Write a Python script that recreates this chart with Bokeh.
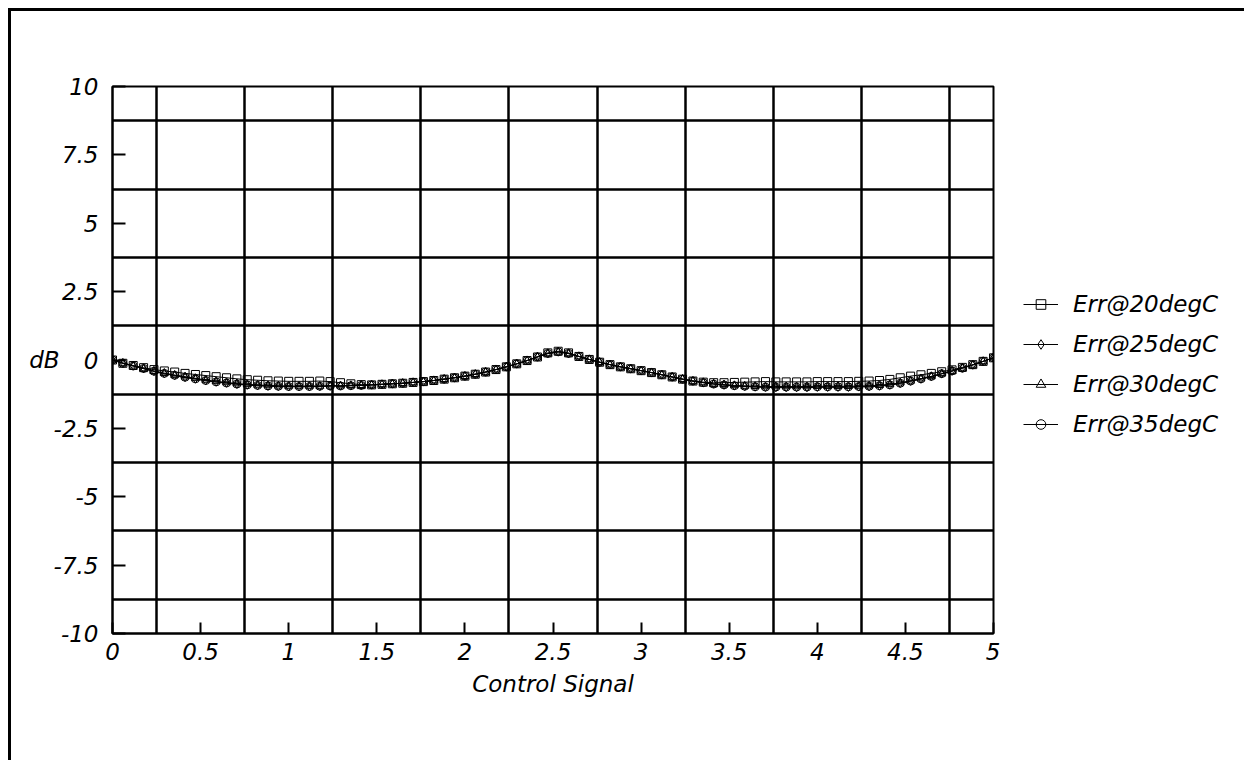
from bokeh.plotting import figure
from bokeh.layouts import row
from bokeh.models import FixedTicker, Legend, LegendItem, ColumnDataSource, Range1d
from bokeh.embed import file_html
from bokeh.resources import INLINE

# ---------------- data ----------------
control = [0.0, 0.0588, 0.1176, 0.1765, 0.2353, 0.2941, 0.3529, 0.4118, 0.4706, 0.5294,
           0.5882, 0.6471, 0.7059, 0.7647, 0.8235, 0.8824, 0.9412, 1.0, 1.0588, 1.1176,
           1.1765, 1.2353, 1.2941, 1.3529, 1.4118, 1.4706, 1.5294, 1.5882, 1.6471, 1.7059,
           1.7647, 1.8235, 1.8824, 1.9412, 2.0, 2.0588, 2.1176, 2.1765, 2.2353, 2.2941,
           2.3529, 2.4118, 2.4706, 2.5294, 2.5882, 2.6471, 2.7059, 2.7647, 2.8235, 2.8824,
           2.9412, 3.0, 3.0588, 3.1176, 3.1765, 3.2353, 3.2941, 3.3529, 3.4118, 3.4706,
           3.5294, 3.5882, 3.6471, 3.7059, 3.7647, 3.8235, 3.8824, 3.9412, 4.0, 4.0588,
           4.1176, 4.1765, 4.2353, 4.2941, 4.3529, 4.4118, 4.4706, 4.5294, 4.5882, 4.6471,
           4.7059, 4.7647, 4.8235, 4.8824, 4.9412, 5.0]

err_20 = [0.00, -0.12, -0.20, -0.28, -0.35, -0.40, -0.44, -0.49, -0.53, -0.57,
          -0.61, -0.65, -0.69, -0.72, -0.74, -0.76, -0.77, -0.78, -0.78, -0.78,
          -0.77, -0.79, -0.83, -0.87, -0.90, -0.91, -0.89, -0.87, -0.85, -0.82,
          -0.79, -0.75, -0.70, -0.65, -0.59, -0.52, -0.44, -0.35, -0.25, -0.14,
          -0.02, 0.11, 0.26, 0.32, 0.26, 0.13, 0.02, -0.08, -0.17, -0.25,
          -0.32, -0.39, -0.46, -0.54, -0.62, -0.70, -0.77, -0.81, -0.83, -0.83,
          -0.82, -0.81, -0.80, -0.79, -0.80, -0.80, -0.80, -0.80, -0.79, -0.79,
          -0.79, -0.79, -0.78, -0.77, -0.75, -0.71, -0.65, -0.59, -0.54, -0.49,
          -0.43, -0.36, -0.27, -0.17, -0.05, 0.08]

err_25 = [0.00, -0.12, -0.22, -0.32, -0.42, -0.50, -0.57, -0.64, -0.70, -0.76,
          -0.81, -0.85, -0.89, -0.92, -0.94, -0.96, -0.97, -0.98, -0.98, -0.98,
          -0.97, -0.96, -0.95, -0.94, -0.93, -0.91, -0.89, -0.87, -0.85, -0.82,
          -0.79, -0.75, -0.70, -0.65, -0.59, -0.52, -0.44, -0.35, -0.25, -0.14,
          -0.02, 0.11, 0.23, 0.29, 0.23, 0.13, 0.02, -0.08, -0.17, -0.25,
          -0.32, -0.39, -0.46, -0.54, -0.62, -0.70, -0.77, -0.83, -0.88, -0.92,
          -0.95, -0.97, -0.99, -1.00, -1.01, -1.01, -1.01, -1.01, -1.00, -1.00,
          -1.00, -1.00, -0.99, -0.98, -0.96, -0.92, -0.86, -0.78, -0.70, -0.61,
          -0.51, -0.41, -0.30, -0.18, -0.05, 0.08]

err_30 = [0.00, -0.11, -0.21, -0.31, -0.40, -0.48, -0.55, -0.61, -0.67, -0.73,
          -0.78, -0.82, -0.86, -0.89, -0.91, -0.93, -0.94, -0.95, -0.95, -0.95,
          -0.95, -0.94, -0.94, -0.93, -0.92, -0.91, -0.89, -0.87, -0.85, -0.82,
          -0.79, -0.75, -0.70, -0.65, -0.59, -0.52, -0.44, -0.35, -0.25, -0.14,
          -0.02, 0.12, 0.24, 0.30, 0.24, 0.13, 0.02, -0.08, -0.17, -0.25,
          -0.32, -0.39, -0.46, -0.54, -0.62, -0.70, -0.77, -0.82, -0.87, -0.90,
          -0.93, -0.95, -0.96, -0.97, -0.97, -0.97, -0.97, -0.97, -0.96, -0.96,
          -0.96, -0.96, -0.95, -0.94, -0.92, -0.89, -0.83, -0.76, -0.68, -0.60,
          -0.50, -0.40, -0.29, -0.18, -0.05, 0.09]

err_35 = [0.00, -0.12, -0.22, -0.31, -0.41, -0.49, -0.56, -0.63, -0.69, -0.75,
          -0.80, -0.84, -0.88, -0.91, -0.93, -0.95, -0.96, -0.97, -0.97, -0.97,
          -0.96, -0.95, -0.95, -0.94, -0.93, -0.91, -0.89, -0.87, -0.85, -0.82,
          -0.79, -0.75, -0.70, -0.65, -0.59, -0.52, -0.44, -0.35, -0.25, -0.14,
          -0.02, 0.11, 0.24, 0.30, 0.24, 0.13, 0.02, -0.08, -0.17, -0.25,
          -0.32, -0.39, -0.46, -0.54, -0.62, -0.70, -0.77, -0.83, -0.88, -0.91,
          -0.94, -0.96, -0.98, -0.99, -0.99, -0.99, -0.99, -0.99, -0.98, -0.98,
          -0.98, -0.98, -0.97, -0.96, -0.94, -0.91, -0.85, -0.77, -0.69, -0.60,
          -0.50, -0.40, -0.30, -0.18, -0.05, 0.08]

series_names = ["Err@20degC", "Err@25degC", "Err@30degC", "Err@35degC"]
series_markers = ["square", "diamond", "triangle", "circle"]

x_ticks = [0, 0.5, 1, 1.5, 2, 2.5, 3, 3.5, 4, 4.5, 5]
x_tick_labels = ["0", "0.5", "1", "1.5", "2", "2.5", "3", "3.5", "4", "4.5", "5"]
y_ticks = [10, 7.5, 5, 2.5, 0, -2.5, -5, -7.5, -10]
y_tick_labels = ["10", "7.5", "5", "2.5", "0", "-2.5", "-5", "-7.5", "-10"]
x_grid = [0.25, 0.75, 1.25, 1.75, 2.25, 2.75, 3.25, 3.75, 4.25, 4.75]
y_grid = [8.75, 6.25, 3.75, 1.25, -1.25, -3.75, -6.25, -8.75]

x_title = "Control Signal"
y_title = "dB"

# ---------------- main figure ----------------
FONT = "DejaVu Sans"
FS = "23px"
p = figure(width=1000, height=760, x_range=(0, 5), y_range=(-10, 10),
           output_backend="svg", toolbar_location=None,
           min_border_left=112, min_border_top=86,
           min_border_right=7, min_border_bottom=127)
p.border_fill_alpha = 0
p.styles = {"box-shadow": "inset 8px 8px 0 0 #ffffff, inset 11px 11px 0 0 #000000"}
p.background_fill_color = "white"
p.outline_line_color = "black"
p.outline_line_width = 2

p.xgrid.ticker = FixedTicker(ticks=x_grid)
p.ygrid.ticker = FixedTicker(ticks=y_grid)
for g in (p.xgrid, p.ygrid):
    g.grid_line_color = "black"
    g.grid_line_width = 2.5
    g.grid_line_alpha = 1

p.xaxis.ticker = FixedTicker(ticks=x_ticks)
p.yaxis.ticker = FixedTicker(ticks=y_ticks)
p.xaxis.major_label_overrides = {t: s for t, s in zip(x_ticks, x_tick_labels)}
p.yaxis.major_label_overrides = {t: s for t, s in zip(y_ticks, y_tick_labels)}
for ax in (p.xaxis[0], p.yaxis[0]):
    ax.axis_line_color = "black"
    ax.axis_line_width = 2
    ax.major_tick_line_color = "black"
    ax.major_tick_line_width = 2
    ax.major_tick_out = 0
    ax.minor_tick_line_color = None
    ax.major_label_text_font = FONT
    ax.major_label_text_font_style = "italic"
    ax.major_label_text_font_size = FS
    ax.major_label_text_color = "black"
    ax.axis_label_text_font = FONT
    ax.axis_label_text_font_style = "italic"
    ax.axis_label_text_font_size = FS
    ax.axis_label_text_color = "black"
p.xaxis.major_tick_in = 11
p.yaxis.major_tick_in = 13
p.xaxis.major_label_standoff = 9
p.yaxis.major_label_standoff = 14
p.xaxis.axis_label = x_title
p.xaxis.axis_label_standoff = 8
p.yaxis.axis_label = y_title
p.yaxis.axis_label_orientation = "horizontal"
p.yaxis.axis_label_standoff = -9

all_series = [err_20, err_25, err_30, err_35]
for mk, ys in zip(series_markers, all_series):
    src = ColumnDataSource(dict(x=control, y=ys))
    p.line("x", "y", source=src, line_color="black", line_width=1)
    p.scatter("x", "y", source=src, marker=mk, size=8,
              line_color="black", line_width=1, fill_alpha=0)

# ---------------- legend panel (its view range shows none of the data) ----------------
pl = figure(width=244, height=760, output_backend="svg", toolbar_location=None,
            x_range=Range1d(100, 101), y_range=Range1d(100, 101),
            x_axis_type=None, y_axis_type=None, min_border=0)
pl.border_fill_alpha = 0
pl.background_fill_alpha = 0
pl.outline_line_color = None
pl.xgrid.visible = False
pl.ygrid.visible = False
pl.styles = {"box-shadow": "inset 0 8px 0 0 #ffffff, inset 0 11px 0 0 #000000"}

items = []
for name, mk, ys in zip(series_names, series_markers, all_series):
    src = ColumnDataSource(dict(x=control, y=ys))
    ln = pl.line("x", "y", source=src, line_color="black", line_width=1)
    sc = pl.scatter("x", "y", source=src, marker=mk, size=12,
                    line_color="black", line_width=1, fill_alpha=0)
    items.append(LegendItem(label=name, renderers=[ln, sc]))

legend = Legend(items=items, location=(23, 196))
legend.border_line_alpha = 0
legend.background_fill_alpha = 0
legend.padding = 0
legend.margin = 0
legend.glyph_width = 35
legend.glyph_height = 24
legend.label_height = 24
legend.label_standoff = 15
legend.spacing = 14
legend.label_text_font = FONT
legend.label_text_font_style = "italic"
legend.label_text_font_size = FS
legend.label_text_color = "black"
pl.add_layout(legend, "center")

layout = row(p, pl)
open("out.html", "w").write(file_html(layout, INLINE))
